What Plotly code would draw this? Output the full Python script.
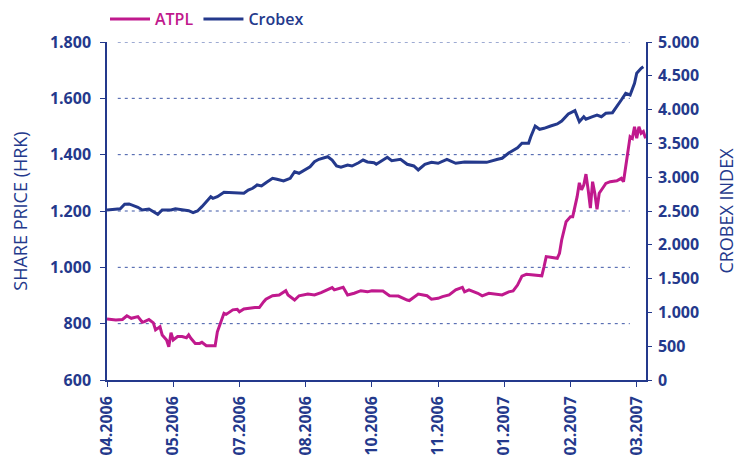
import plotly.graph_objects as go

# ---- data (trading-day index, value) ----
tick_labels = ["04.2006", "05.2006", "07.2006", "08.2006", "10.2006",
               "11.2006", "01.2007", "02.2007", "03.2007"]
tick_positions = [0, 30, 60, 90, 120, 150, 180, 210, 240]

atpl_day = [0, 4, 7, 9, 11, 14, 16, 17, 19, 21, 22, 24, 25, 27, 28, 29, 30, 32, 34, 36,
            37, 38, 40, 42, 43, 45, 49, 50, 53, 54, 57, 59, 60, 62, 67, 69, 71, 72, 75, 78,
            81, 82, 85, 87, 91, 94, 97, 100, 102, 103, 107, 109, 112, 115, 118, 120, 125, 128,
            132, 136, 137, 141, 145, 147, 150, 152, 155, 158, 161, 162, 164, 168, 170, 173,
            176, 179, 182, 184, 186, 188, 190, 193, 197, 198, 199, 201, 204, 205, 206, 208,
            210, 211, 213, 214, 215, 216, 217, 218, 219, 220, 221, 222, 223, 225, 226, 228,
            231, 233, 234, 235, 237, 238, 239, 240, 241, 242, 243, 244]
atpl_price = [817, 813, 815, 828, 819, 825, 805, 807, 815, 803, 778, 789, 760, 742, 718, 768,
              742, 754, 754, 750, 760, 748, 730, 730, 734, 722, 722, 771, 837, 833, 849, 851,
              842, 852, 857, 857, 878, 887, 899, 902, 917, 902, 884, 899, 905, 902, 910, 922,
              928, 920, 929, 902, 908, 917, 913, 917, 916, 899, 898, 884, 882, 905, 899, 887,
              890, 896, 902, 920, 929, 913, 920, 908, 899, 908, 905, 902, 913, 916, 937, 969,
              975, 973, 970, 1002, 1038, 1036, 1032, 1050, 1097, 1162, 1180, 1180, 1251, 1300,
              1275, 1292, 1331, 1275, 1210, 1304, 1263, 1206, 1263, 1286, 1298, 1304, 1307,
              1316, 1304, 1357, 1464, 1458, 1499, 1458, 1499, 1476, 1482, 1458]

crobex_day = [0, 6, 8, 10, 14, 16, 19, 21, 23, 25, 29, 31, 34, 37, 39, 41, 43, 47, 48, 50,
              53, 56, 58, 62, 64, 66, 68, 70, 72, 75, 77, 80, 83, 85, 87, 90, 92, 94, 96, 100,
              102, 104, 106, 109, 111, 114, 116, 118, 121, 122, 127, 129, 133, 136, 139, 141,
              144, 147, 150, 154, 158, 162, 168, 172, 177, 179, 182, 184, 186, 188, 191, 192,
              194, 196, 198, 201, 204, 206, 209, 212, 214, 216, 217, 220, 222, 224, 226, 229,
              231, 233, 235, 237, 239, 240, 242, 243]
crobex_index = [2515, 2534, 2599, 2604, 2555, 2515, 2530, 2490, 2451, 2515, 2515, 2534, 2515,
                2504, 2475, 2500, 2564, 2712, 2688, 2712, 2777, 2771, 2762, 2762, 2811, 2836,
                2885, 2870, 2919, 2984, 2969, 2944, 2984, 3081, 3058, 3117, 3155, 3229, 3265,
                3303, 3254, 3166, 3147, 3181, 3166, 3214, 3254, 3225, 3214, 3191, 3294, 3244,
                3265, 3191, 3166, 3107, 3191, 3220, 3206, 3265, 3206, 3225, 3220, 3220, 3265,
                3280, 3358, 3402, 3436, 3502, 3502, 3599, 3757, 3709, 3723, 3757, 3787, 3831,
                3935, 3984, 3821, 3895, 3857, 3895, 3920, 3895, 3945, 3954, 4043, 4142, 4241,
                4216, 4389, 4537, 4611, 4635]

NAVY = "#24398c"
MAGENTA = "#c0198d"
FONT = "Open Sans"

fig = go.Figure()
fig.add_trace(go.Scatter(
    x=atpl_day, y=atpl_price, mode="lines",
    name=f"<span style='color:{MAGENTA}'>ATPL</span>",
    line=dict(color=MAGENTA, width=3), yaxis="y"))
fig.add_trace(go.Scatter(
    x=crobex_day, y=crobex_index, mode="lines",
    name=f"<span style='color:{NAVY}'>Crobex</span>",
    line=dict(color=NAVY, width=3), yaxis="y2"))

# dotted horizontal gridlines (inset from the axes, as in the reference)
shapes = []
for v in [800, 1000, 1200, 1400, 1600, 1800]:
    shapes.append(dict(type="line", xref="paper", yref="y", x0=0.02, x1=0.97, y0=v, y1=v,
                       line=dict(color="#3d56a6", width=1, dash="3px,4px"), layer="below"))

axis_font = dict(family=FONT, size=16, color=NAVY, weight=700)
title_font = dict(family=FONT, size=18, color=NAVY)

fig.update_layout(
    width=738, height=473, autosize=False,
    margin=dict(l=107, r=92, t=42, b=93),
    paper_bgcolor="white", plot_bgcolor="white",
    separators=",.",
    font=dict(family=FONT, color=NAVY),
    shapes=shapes,
    showlegend=True,
    legend=dict(orientation="h", xref="container", yref="container",
                x=105 / 738, xanchor="left", y=1 - 2 / 473, yanchor="top",
                font=dict(family=FONT, size=16, weight=600), bgcolor="rgba(0,0,0,0)",
                itemwidth=40, tracegroupgap=0),
    xaxis=dict(range=[0, 244.2], tickvals=tick_positions, ticktext=tick_labels,
               tickangle=-90, showgrid=False, zeroline=False, showline=True,
               linecolor=NAVY, linewidth=1.5, ticks="outside", ticklen=5,
               tickcolor=NAVY, tickfont=axis_font, ticklabelstandoff=3, automargin=False),
    yaxis=dict(range=[600, 1800], dtick=200, tickformat=",d", showgrid=False,
               zeroline=False, showline=True, linecolor=NAVY, linewidth=1.5,
               ticks="outside", ticklen=5, tickcolor=NAVY, tickfont=axis_font,
               ticklabelstandoff=6,
               title=dict(text="SHARE PRICE (HRK)", font=title_font, standoff=18),
               automargin=False),
    yaxis2=dict(range=[0, 5000], dtick=500, tickformat=",d", overlaying="y", side="right",
                showgrid=False, zeroline=False, showline=True, linecolor=NAVY, linewidth=1.5,
                ticks="outside", ticklen=4, tickcolor=NAVY, tickfont=axis_font,
                ticklabelstandoff=3,
                title=dict(text="CROBEX INDEX", font=title_font, standoff=22),
                automargin=False),
)

fig.write_html("out.html", config={"displayModeBar": False},
               post_script="document.body.style.margin='0';")
